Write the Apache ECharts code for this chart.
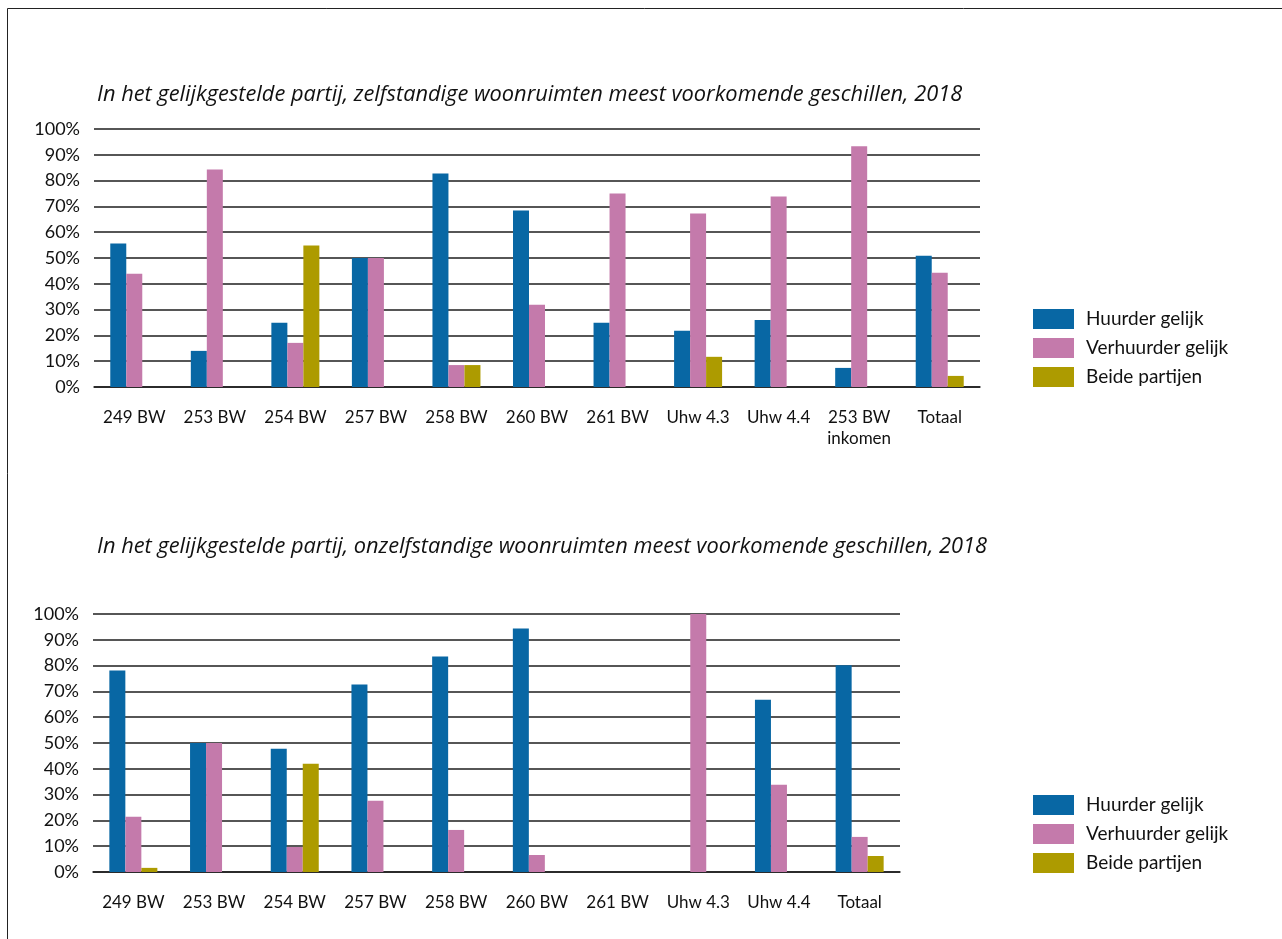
<!DOCTYPE html>
<html>
<head>
<meta charset="utf-8">
<script src="https://cdn.jsdelivr.net/npm/echarts@6/dist/echarts.min.js"></script>
<style>
html,body{margin:0;padding:0;background:#fff;}
#c{width:1282px;height:939px;}
</style>
</head>
<body>
<div id="c"></div>
<script>
const title1 = 'In het gelijkgestelde partij, zelfstandige woonruimten meest voorkomende geschillen, 2018';
const title2 = 'In het gelijkgestelde partij, onzelfstandige woonruimten meest voorkomende geschillen, 2018';
const seriesNames = ['Huurder gelijk', 'Verhuurder gelijk', 'Beide partijen'];

const categories1 = ['249 BW', '253 BW', '254 BW', '257 BW', '258 BW', '260 BW', '261 BW', 'Uhw 4.3', 'Uhw 4.4', '253 BW\ninkomen', 'Totaal'];
const huurder1    = [55.6, 14.0, 24.9, 50.0, 82.8, 68.4, 24.9, 21.8, 26.0, 7.4, 50.9];
const verhuurder1 = [43.9, 84.3, 17.1, 50.0, 8.5, 31.9, 75.0, 67.2, 73.8, 93.3, 44.3];
const beide1      = [null, null, 54.8, null, 8.5, null, null, 11.7, null, null, 4.3];

const categories2 = ['249 BW', '253 BW', '254 BW', '257 BW', '258 BW', '260 BW', '261 BW', 'Uhw 4.3', 'Uhw 4.4', 'Totaal'];
const huurder2    = [78.1, 50.0, 47.8, 72.7, 83.5, 94.4, null, null, 66.8, 80.1];
const verhuurder2 = [21.4, 50.0, 9.7, 27.6, 16.3, 6.6, null, 100, 33.8, 13.6];
const beide2      = [1.6, null, 42.0, null, null, null, null, null, null, 6.2];

const colors = ['#0867a4', '#c47aab', '#ad9b00'];
const FONT = 'Lato, "Noto Sans", sans-serif';
const TFONT = '"Open Sans", "Noto Sans", sans-serif';

function yAxis(gridIndex) {
  return {
    type: 'value', gridIndex, min: 0, max: 100, interval: 10,
    axisLine: {show: false}, axisTick: {show: false},
    axisLabel: {formatter: '{value}%', color: '#111', fontSize: 18, fontFamily: FONT, margin: 14},
    splitLine: {lineStyle: {color: '#1e1e1e', width: 1.5}}
  };
}
function xAxis(gridIndex, cats) {
  return {
    type: 'category', gridIndex, data: cats,
    axisLine: {lineStyle: {color: '#1e1e1e', width: 1.5}},
    axisTick: {show: false},
    axisLabel: {interval: 0, color: '#111', fontSize: 17, fontFamily: FONT, margin: 20, lineHeight: 21}
  };
}
function bars(idx, arrs) {
  return arrs.map((d, i) => ({
    type: 'bar', name: seriesNames[i], xAxisIndex: idx, yAxisIndex: idx,
    data: d, barWidth: 16, barGap: '0%', itemStyle: {color: colors[i]}, silent: true
  }));
}
function legend(top) {
  return {
    orient: 'vertical', left: 1033, top: top, itemWidth: 41, itemHeight: 20, itemGap: 9,
    icon: 'rect', selectedMode: false, padding: 0,
    data: seriesNames,
    textStyle: {fontSize: 19, fontFamily: FONT, color: '#111', padding: [0, 0, 0, 7]}
  };
}

const chart = echarts.init(document.getElementById('c'), null, {renderer: 'canvas'});
chart.setOption({
  animation: false,
  backgroundColor: '#fff',
  title: [
    {text: title1, left: 97, top: 84, padding: 0,
     textStyle: {fontSize: 21.8, fontStyle: 'italic', fontWeight: 'normal', fontFamily: TFONT, color: '#111'}},
    {text: title2, left: 97, top: 536, padding: 0,
     textStyle: {fontSize: 21.8, fontStyle: 'italic', fontWeight: 'normal', fontFamily: TFONT, color: '#111'}}
  ],
  grid: [
    {left: 94, top: 129, width: 886, height: 258},
    {left: 93, top: 614, width: 807, height: 258}
  ],
  xAxis: [xAxis(0, categories1), xAxis(1, categories2)],
  yAxis: [yAxis(0), yAxis(1)],
  legend: [legend(309), legend(795)],
  series: [].concat(bars(0, [huurder1, verhuurder1, beide1]), bars(1, [huurder2, verhuurder2, beide2])),
  graphic: [
    {type: 'line', shape: {x1: 7.5, y1: 8.5, x2: 1282, y2: 8.5}, style: {stroke: '#222', lineWidth: 1}},
    {type: 'line', shape: {x1: 7.5, y1: 8.5, x2: 7.5, y2: 939}, style: {stroke: '#222', lineWidth: 1}}
  ]
});
</script>
</body>
</html>
